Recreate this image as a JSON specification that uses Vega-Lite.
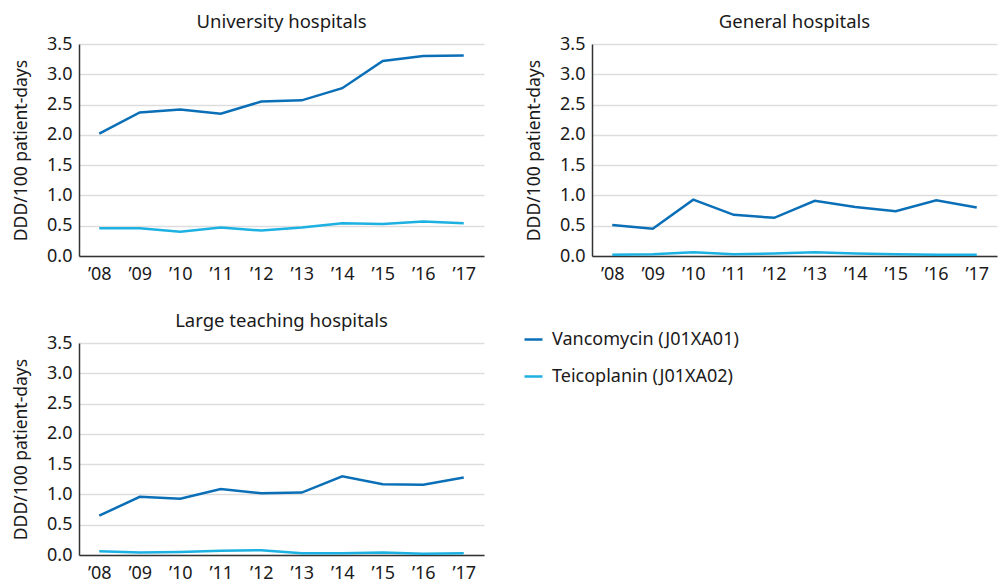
{
  "$schema": "https://vega.github.io/schema/vega-lite/v6.json",
  "padding": {"left": 12, "top": 12, "right": 2, "bottom": 0},
  "background": "white",
  "spacing": 28,
  "datasets": {
    "rows": [
      {"panel": "University hospitals", "year": "’08", "drug": "Vancomycin (J01XA01)", "value": 2.02},
      {"panel": "University hospitals", "year": "’09", "drug": "Vancomycin (J01XA01)", "value": 2.37},
      {"panel": "University hospitals", "year": "’10", "drug": "Vancomycin (J01XA01)", "value": 2.42},
      {"panel": "University hospitals", "year": "’11", "drug": "Vancomycin (J01XA01)", "value": 2.35},
      {"panel": "University hospitals", "year": "’12", "drug": "Vancomycin (J01XA01)", "value": 2.55},
      {"panel": "University hospitals", "year": "’13", "drug": "Vancomycin (J01XA01)", "value": 2.57},
      {"panel": "University hospitals", "year": "’14", "drug": "Vancomycin (J01XA01)", "value": 2.77},
      {"panel": "University hospitals", "year": "’15", "drug": "Vancomycin (J01XA01)", "value": 3.22},
      {"panel": "University hospitals", "year": "’16", "drug": "Vancomycin (J01XA01)", "value": 3.30},
      {"panel": "University hospitals", "year": "’17", "drug": "Vancomycin (J01XA01)", "value": 3.31},
      {"panel": "University hospitals", "year": "’08", "drug": "Teicoplanin (J01XA02)", "value": 0.46},
      {"panel": "University hospitals", "year": "’09", "drug": "Teicoplanin (J01XA02)", "value": 0.46},
      {"panel": "University hospitals", "year": "’10", "drug": "Teicoplanin (J01XA02)", "value": 0.40},
      {"panel": "University hospitals", "year": "’11", "drug": "Teicoplanin (J01XA02)", "value": 0.47},
      {"panel": "University hospitals", "year": "’12", "drug": "Teicoplanin (J01XA02)", "value": 0.42},
      {"panel": "University hospitals", "year": "’13", "drug": "Teicoplanin (J01XA02)", "value": 0.47},
      {"panel": "University hospitals", "year": "’14", "drug": "Teicoplanin (J01XA02)", "value": 0.54},
      {"panel": "University hospitals", "year": "’15", "drug": "Teicoplanin (J01XA02)", "value": 0.53},
      {"panel": "University hospitals", "year": "’16", "drug": "Teicoplanin (J01XA02)", "value": 0.57},
      {"panel": "University hospitals", "year": "’17", "drug": "Teicoplanin (J01XA02)", "value": 0.54},
      {"panel": "General hospitals", "year": "’08", "drug": "Vancomycin (J01XA01)", "value": 0.51},
      {"panel": "General hospitals", "year": "’09", "drug": "Vancomycin (J01XA01)", "value": 0.45},
      {"panel": "General hospitals", "year": "’10", "drug": "Vancomycin (J01XA01)", "value": 0.93},
      {"panel": "General hospitals", "year": "’11", "drug": "Vancomycin (J01XA01)", "value": 0.68},
      {"panel": "General hospitals", "year": "’12", "drug": "Vancomycin (J01XA01)", "value": 0.63},
      {"panel": "General hospitals", "year": "’13", "drug": "Vancomycin (J01XA01)", "value": 0.91},
      {"panel": "General hospitals", "year": "’14", "drug": "Vancomycin (J01XA01)", "value": 0.81},
      {"panel": "General hospitals", "year": "’15", "drug": "Vancomycin (J01XA01)", "value": 0.74},
      {"panel": "General hospitals", "year": "’16", "drug": "Vancomycin (J01XA01)", "value": 0.92},
      {"panel": "General hospitals", "year": "’17", "drug": "Vancomycin (J01XA01)", "value": 0.80},
      {"panel": "General hospitals", "year": "’08", "drug": "Teicoplanin (J01XA02)", "value": 0.02},
      {"panel": "General hospitals", "year": "’09", "drug": "Teicoplanin (J01XA02)", "value": 0.03},
      {"panel": "General hospitals", "year": "’10", "drug": "Teicoplanin (J01XA02)", "value": 0.06},
      {"panel": "General hospitals", "year": "’11", "drug": "Teicoplanin (J01XA02)", "value": 0.03},
      {"panel": "General hospitals", "year": "’12", "drug": "Teicoplanin (J01XA02)", "value": 0.04},
      {"panel": "General hospitals", "year": "’13", "drug": "Teicoplanin (J01XA02)", "value": 0.06},
      {"panel": "General hospitals", "year": "’14", "drug": "Teicoplanin (J01XA02)", "value": 0.04},
      {"panel": "General hospitals", "year": "’15", "drug": "Teicoplanin (J01XA02)", "value": 0.03},
      {"panel": "General hospitals", "year": "’16", "drug": "Teicoplanin (J01XA02)", "value": 0.02},
      {"panel": "General hospitals", "year": "’17", "drug": "Teicoplanin (J01XA02)", "value": 0.02},
      {"panel": "Large teaching hospitals", "year": "’08", "drug": "Vancomycin (J01XA01)", "value": 0.65},
      {"panel": "Large teaching hospitals", "year": "’09", "drug": "Vancomycin (J01XA01)", "value": 0.96},
      {"panel": "Large teaching hospitals", "year": "’10", "drug": "Vancomycin (J01XA01)", "value": 0.93},
      {"panel": "Large teaching hospitals", "year": "’11", "drug": "Vancomycin (J01XA01)", "value": 1.09},
      {"panel": "Large teaching hospitals", "year": "’12", "drug": "Vancomycin (J01XA01)", "value": 1.02},
      {"panel": "Large teaching hospitals", "year": "’13", "drug": "Vancomycin (J01XA01)", "value": 1.03},
      {"panel": "Large teaching hospitals", "year": "’14", "drug": "Vancomycin (J01XA01)", "value": 1.30},
      {"panel": "Large teaching hospitals", "year": "’15", "drug": "Vancomycin (J01XA01)", "value": 1.17},
      {"panel": "Large teaching hospitals", "year": "’16", "drug": "Vancomycin (J01XA01)", "value": 1.16},
      {"panel": "Large teaching hospitals", "year": "’17", "drug": "Vancomycin (J01XA01)", "value": 1.28},
      {"panel": "Large teaching hospitals", "year": "’08", "drug": "Teicoplanin (J01XA02)", "value": 0.06},
      {"panel": "Large teaching hospitals", "year": "’09", "drug": "Teicoplanin (J01XA02)", "value": 0.04},
      {"panel": "Large teaching hospitals", "year": "’10", "drug": "Teicoplanin (J01XA02)", "value": 0.05},
      {"panel": "Large teaching hospitals", "year": "’11", "drug": "Teicoplanin (J01XA02)", "value": 0.07},
      {"panel": "Large teaching hospitals", "year": "’12", "drug": "Teicoplanin (J01XA02)", "value": 0.08},
      {"panel": "Large teaching hospitals", "year": "’13", "drug": "Teicoplanin (J01XA02)", "value": 0.03},
      {"panel": "Large teaching hospitals", "year": "’14", "drug": "Teicoplanin (J01XA02)", "value": 0.03},
      {"panel": "Large teaching hospitals", "year": "’15", "drug": "Teicoplanin (J01XA02)", "value": 0.04},
      {"panel": "Large teaching hospitals", "year": "’16", "drug": "Teicoplanin (J01XA02)", "value": 0.02},
      {"panel": "Large teaching hospitals", "year": "’17", "drug": "Teicoplanin (J01XA02)", "value": 0.03}
    ]
  },
  "data": {"name": "rows"},
  "config": {
    "font": "Noto Sans",
    "view": {"stroke": null},
    "title": {"fontSize": 18.5, "fontWeight": "normal", "color": "#1a1a1a", "offset": 4},
    "axis": {
      "labelFontSize": 18, "titleFontSize": 17.5, "titleFontWeight": "normal",
      "labelColor": "#1a1a1a", "titleColor": "#1a1a1a",
      "domainColor": "#333333", "domainWidth": 1.5, "ticks": false,
      "gridColor": "#dddddd", "gridWidth": 1.5
    },
    "legend": {"labelFontSize": 18, "labelColor": "#1a1a1a"}
  },
  "vconcat": [
    {
      "spacing": 41,
      "hconcat": [
        {
          "title": "University hospitals",
          "width": 405, "height": 212,
          "transform": [{"filter": "datum.panel === 'University hospitals'"}],
          "mark": {"type": "line", "strokeWidth": 2.5},
          "encoding": {
            "x": {"field": "year", "type": "ordinal", "sort": null, "scale": {"type": "point", "padding": 0.5}, "axis": {"title": null, "labelAngle": 0, "grid": false, "labelPadding": 9}},
            "y": {"field": "value", "type": "quantitative", "scale": {"domain": [0, 3.5]}, "axis": {"title": "DDD/100 patient-days", "values": [0, 0.5, 1, 1.5, 2, 2.5, 3, 3.5], "format": ".1f", "labelPadding": 7, "titlePadding": 16}},
            "color": {"field": "drug", "type": "nominal", "sort": ["Vancomycin (J01XA01)", "Teicoplanin (J01XA02)"], "scale": {"domain": ["Vancomycin (J01XA01)", "Teicoplanin (J01XA02)"], "range": ["#0a6fb7", "#1cb1e1"]},
              "legend": {"title": null, "orient": "none", "legendX": 444, "legendY": 285, "symbolType": "stroke", "symbolSize": 324, "symbolStrokeWidth": 2.5, "rowPadding": 17, "labelOffset": 8, "labelLimit": 400}}
          }
        },
        {
          "title": "General hospitals",
          "width": 405, "height": 212,
          "transform": [{"filter": "datum.panel === 'General hospitals'"}],
          "mark": {"type": "line", "strokeWidth": 2.5},
          "encoding": {
            "x": {"field": "year", "type": "ordinal", "sort": null, "scale": {"type": "point", "padding": 0.5}, "axis": {"title": null, "labelAngle": 0, "grid": false, "labelPadding": 9}},
            "y": {"field": "value", "type": "quantitative", "scale": {"domain": [0, 3.5]}, "axis": {"title": "DDD/100 patient-days", "values": [0, 0.5, 1, 1.5, 2, 2.5, 3, 3.5], "format": ".1f", "labelPadding": 7, "titlePadding": 16}},
            "color": {"field": "drug", "type": "nominal", "scale": {"domain": ["Vancomycin (J01XA01)", "Teicoplanin (J01XA02)"], "range": ["#0a6fb7", "#1cb1e1"]}}
          }
        }
      ]
    },
    {
      "hconcat": [
        {
          "title": "Large teaching hospitals",
          "width": 405, "height": 212,
          "transform": [{"filter": "datum.panel === 'Large teaching hospitals'"}],
          "mark": {"type": "line", "strokeWidth": 2.5},
          "encoding": {
            "x": {"field": "year", "type": "ordinal", "sort": null, "scale": {"type": "point", "padding": 0.5}, "axis": {"title": null, "labelAngle": 0, "grid": false, "labelPadding": 9}},
            "y": {"field": "value", "type": "quantitative", "scale": {"domain": [0, 3.5]}, "axis": {"title": "DDD/100 patient-days", "values": [0, 0.5, 1, 1.5, 2, 2.5, 3, 3.5], "format": ".1f", "labelPadding": 7, "titlePadding": 16}},
            "color": {"field": "drug", "type": "nominal", "scale": {"domain": ["Vancomycin (J01XA01)", "Teicoplanin (J01XA02)"], "range": ["#0a6fb7", "#1cb1e1"]}}
          }
        }
      ]
    }
  ]
}
